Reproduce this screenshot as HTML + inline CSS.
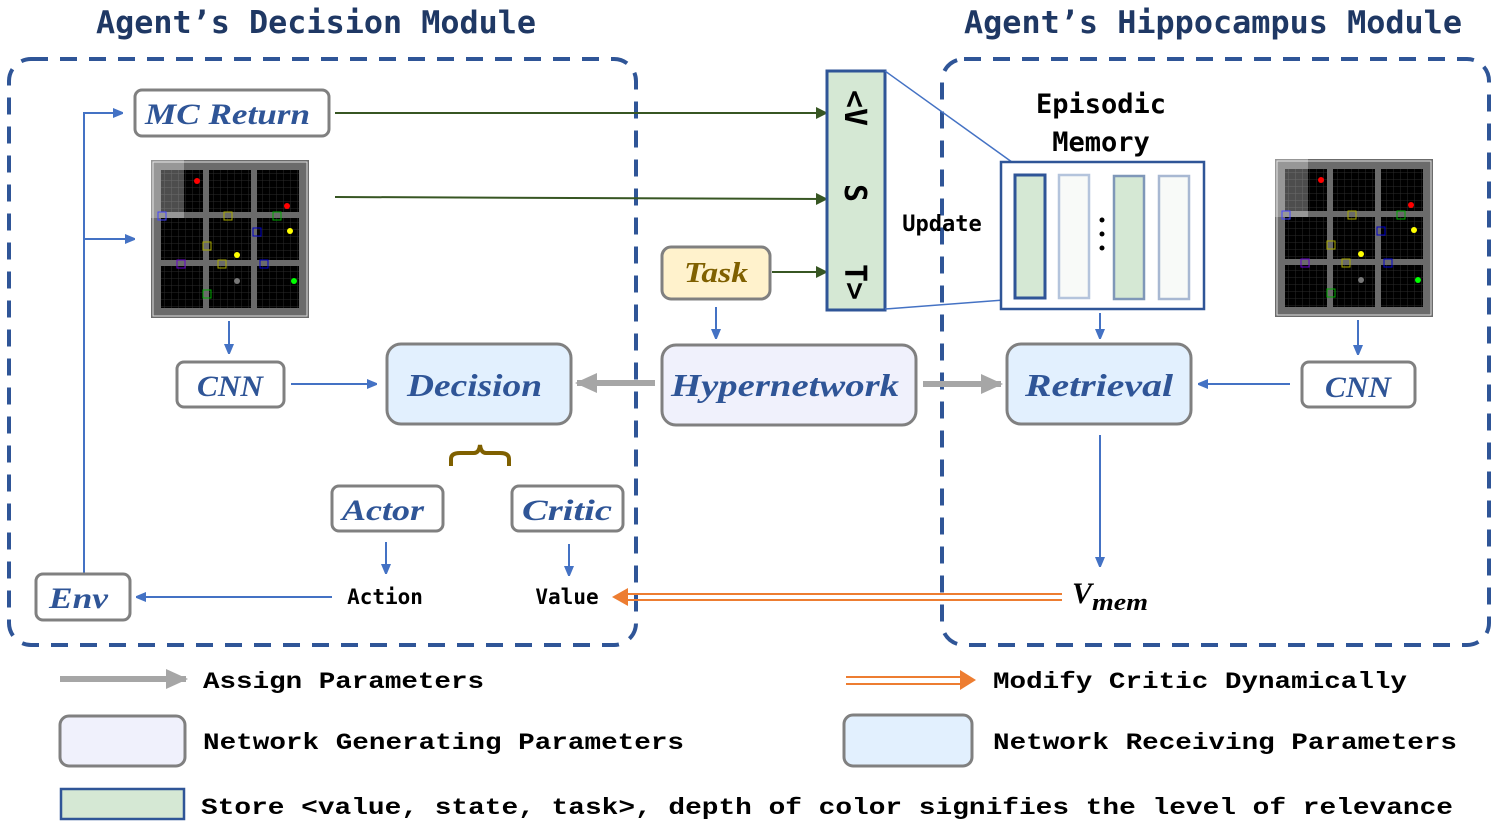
<!DOCTYPE html>
<html><head><meta charset="utf-8"><style>
html,body{margin:0;padding:0;background:#fff;}
svg{display:block}
.t{font-family:"DejaVu Sans Mono",monospace;font-weight:bold;fill:#1f3864;font-size:31px}
.n{font-family:"Liberation Serif",serif;font-style:italic;font-weight:bold;fill:#2f5597}
.m{font-family:"DejaVu Sans Mono",monospace;font-weight:bold;fill:#000}
.l{font-family:"Liberation Mono",monospace;font-weight:bold;fill:#000;font-size:23px}
</style></head><body>
<svg width="1495" height="825" viewBox="0 0 1495 825" xmlns="http://www.w3.org/2000/svg">
<defs>
<marker id="ab" markerWidth="10" markerHeight="10" refX="9" refY="5" orient="auto" markerUnits="userSpaceOnUse"><path d="M0,0 L12,5 L0,10 z" fill="#4472c4"/></marker>
<marker id="ag" markerWidth="12" markerHeight="12" refX="11" refY="6" orient="auto" markerUnits="userSpaceOnUse"><path d="M0,0 L12,6 L0,12 z" fill="#375623"/></marker>
<marker id="agr" markerWidth="22" markerHeight="20" refX="20" refY="10" orient="auto" markerUnits="userSpaceOnUse"><path d="M0,0 L22,10 L0,20 z" fill="#a6a6a6"/></marker>
<pattern id="gl" width="7" height="7" patternUnits="userSpaceOnUse"><rect width="7" height="7" fill="#000"/><path d="M7,0 V7 M0,7 H7" stroke="#2a2a2a" stroke-width="1"/></pattern>
<g id="grid">
<rect x="0" y="0" width="158" height="158" fill="#6b6b6b"/>
<rect x="2" y="2" width="154" height="154" fill="none" stroke="#ddd" stroke-width="1"/>
<rect x="10" y="10" width="42" height="42" fill="url(#gl)"/><rect x="58" y="10" width="42" height="42" fill="url(#gl)"/><rect x="106" y="10" width="42" height="42" fill="url(#gl)"/>
<rect x="10" y="58" width="42" height="42" fill="url(#gl)"/><rect x="58" y="58" width="42" height="42" fill="url(#gl)"/><rect x="106" y="58" width="42" height="42" fill="url(#gl)"/>
<rect x="10" y="106" width="42" height="42" fill="url(#gl)"/><rect x="58" y="106" width="42" height="42" fill="url(#gl)"/><rect x="106" y="106" width="42" height="42" fill="url(#gl)"/>
<rect x="0" y="0" width="33" height="58" fill="#fff" opacity="0.3"/>
<circle cx="46" cy="21" r="3" fill="red"/><circle cx="136" cy="46" r="3" fill="red"/>
<circle cx="139" cy="71" r="3" fill="yellow"/><circle cx="86" cy="95" r="3" fill="yellow"/>
<circle cx="143" cy="121" r="3" fill="#0f0"/><circle cx="86" cy="121" r="3" fill="#777"/>
<rect x="7" y="52" width="8" height="8" fill="none" stroke="#44f"/><rect x="73" y="52" width="8" height="8" fill="none" stroke="#aa0"/>
<rect x="122" y="52" width="8" height="8" fill="none" stroke="#0a0"/><rect x="102" y="68" width="8" height="8" fill="none" stroke="#00c"/>
<rect x="52" y="82" width="8" height="8" fill="none" stroke="#aa0"/><rect x="26" y="100" width="8" height="8" fill="none" stroke="#60c"/>
<rect x="67" y="100" width="8" height="8" fill="none" stroke="#aa0"/><rect x="109" y="100" width="8" height="8" fill="none" stroke="#00c"/>
<rect x="52" y="130" width="8" height="8" fill="none" stroke="#0a0"/>
</g>
</defs>

<text class="t" x="96" y="33" textLength="440" lengthAdjust="spacingAndGlyphs">Agent’s Decision Module</text>
<text class="t" x="964" y="33" textLength="498" lengthAdjust="spacingAndGlyphs">Agent’s Hippocampus Module</text>

<rect x="9" y="59" width="627" height="586" rx="22" fill="none" stroke="#2f5597" stroke-width="4" stroke-dasharray="17 12"/>
<rect x="942" y="59" width="547" height="586" rx="22" fill="none" stroke="#2f5597" stroke-width="4" stroke-dasharray="17 12"/>

<rect x="135" y="90" width="194" height="46" rx="7" fill="#fff" stroke="#808080" stroke-width="3"/>
<text class="n" x="145" y="124" font-size="30" textLength="165" lengthAdjust="spacingAndGlyphs">MC Return</text>
<use href="#grid" x="151" y="160"/>
<use href="#grid" x="1275" y="159"/>

<path d="M84,575 V113 H122" fill="none" stroke="#4472c4" stroke-width="2" marker-end="url(#ab)"/>
<path d="M84,239 H134" fill="none" stroke="#4472c4" stroke-width="2" marker-end="url(#ab)"/>

<line x1="335" y1="113" x2="827" y2="113" stroke="#375623" stroke-width="2" marker-end="url(#ag)"/>
<line x1="335" y1="197" x2="827" y2="199" stroke="#375623" stroke-width="2" marker-end="url(#ag)"/>
<line x1="772" y1="272" x2="827" y2="272" stroke="#375623" stroke-width="2" marker-end="url(#ag)"/>

<rect x="827" y="71" width="58" height="239" fill="#d5e8d4" stroke="#2f5597" stroke-width="3"/>
<g class="m" font-size="30">
<text transform="translate(845,108) rotate(90)" text-anchor="middle">&lt;V</text>
<text transform="translate(845,193) rotate(90)" text-anchor="middle">S</text>
<text transform="translate(845,282) rotate(90)" text-anchor="middle">T&gt;</text>
</g>
<text class="m" x="942" y="231" font-size="22" text-anchor="middle">Update</text>
<line x1="885" y1="71" x2="1030" y2="175" stroke="#4472c4" stroke-width="1.5"/>
<line x1="885" y1="309" x2="1030" y2="298" stroke="#4472c4" stroke-width="1.5"/>

<text class="m" x="1101" y="113" font-size="27" text-anchor="middle">Episodic</text>
<text class="m" x="1101" y="151" font-size="27" text-anchor="middle">Memory</text>
<rect x="1001" y="162" width="203" height="147" fill="#fff" stroke="#2f5597" stroke-width="2.5"/>
<rect x="1015" y="175" width="30" height="123" fill="#d5e8d4" stroke="#2f5597" stroke-width="3"/>
<rect x="1059" y="175" width="30" height="123" fill="#f8faf8" stroke="#b4c4dc" stroke-width="2.5"/>
<rect x="1114" y="176" width="30" height="123" fill="#d5e8d4" stroke="#7f97b8" stroke-width="2.5"/>
<rect x="1159" y="176" width="30" height="123" fill="#f8faf8" stroke="#a8b8d2" stroke-width="2.5"/>
<circle cx="1102" cy="220" r="2.5" fill="#000"/><circle cx="1102" cy="234" r="2.5" fill="#000"/><circle cx="1102" cy="248" r="2.5" fill="#000"/>

<rect x="662" y="247" width="108" height="52" rx="9" fill="#fff2cc" stroke="#808080" stroke-width="3"/>
<text class="n" x="684" y="282" font-size="28" textLength="64" lengthAdjust="spacingAndGlyphs" style="fill:#7f6000">Task</text>
<line x1="716" y1="307" x2="716" y2="338" stroke="#4472c4" stroke-width="2" marker-end="url(#ab)"/>

<line x1="229" y1="321" x2="229" y2="353" stroke="#4472c4" stroke-width="2" marker-end="url(#ab)"/>
<rect x="177" y="362" width="107" height="45" rx="7" fill="#fff" stroke="#808080" stroke-width="3"/>
<text class="n" x="197" y="396" font-size="30" textLength="66" lengthAdjust="spacingAndGlyphs">CNN</text>
<line x1="291" y1="384" x2="376" y2="384" stroke="#4472c4" stroke-width="2" marker-end="url(#ab)"/>

<rect x="387" y="344" width="184" height="80" rx="14" fill="#e2f0fe" stroke="#808080" stroke-width="3"/>
<text class="n" x="407" y="396" font-size="32" textLength="135" lengthAdjust="spacingAndGlyphs">Decision</text>

<line x1="655" y1="383" x2="577" y2="383" stroke="#a6a6a6" stroke-width="6" marker-end="url(#agr)"/>
<rect x="662" y="345" width="254" height="80" rx="14" fill="#f0f1fc" stroke="#808080" stroke-width="3"/>
<text class="n" x="671" y="396" font-size="32" textLength="228" lengthAdjust="spacingAndGlyphs">Hypernetwork</text>
<line x1="923" y1="384" x2="1001" y2="384" stroke="#a6a6a6" stroke-width="6" marker-end="url(#agr)"/>

<line x1="1100" y1="313" x2="1100" y2="338" stroke="#4472c4" stroke-width="2" marker-end="url(#ab)"/>
<rect x="1007" y="344" width="184" height="80" rx="14" fill="#e2f0fe" stroke="#808080" stroke-width="3"/>
<text class="n" x="1025" y="396" font-size="32" textLength="148" lengthAdjust="spacingAndGlyphs">Retrieval</text>
<line x1="1290" y1="384" x2="1199" y2="384" stroke="#4472c4" stroke-width="2" marker-end="url(#ab)"/>
<line x1="1358" y1="320" x2="1358" y2="354" stroke="#4472c4" stroke-width="2" marker-end="url(#ab)"/>
<rect x="1302" y="362" width="113" height="45" rx="7" fill="#fff" stroke="#808080" stroke-width="3"/>
<text class="n" x="1325" y="397" font-size="30" textLength="66" lengthAdjust="spacingAndGlyphs">CNN</text>

<line x1="1100" y1="435" x2="1100" y2="566" stroke="#4472c4" stroke-width="2" marker-end="url(#ab)"/>
<text x="1072" y="603" font-family="Liberation Serif,serif" font-style="italic" font-weight="bold" font-size="30">V</text>
<text x="1092" y="610" font-family="Liberation Serif,serif" font-style="italic" font-weight="bold" font-size="24" textLength="56" lengthAdjust="spacingAndGlyphs">mem</text>

<path d="M451,466 V459 Q451,453 460,453 H474 Q479,453 480,445 Q481,453 486,453 H500 Q509,453 509,459 V466" fill="none" stroke="#7f6000" stroke-width="4"/>

<rect x="332" y="486" width="111" height="45" rx="7" fill="#fff" stroke="#808080" stroke-width="3"/>
<text class="n" x="342" y="520" font-size="30" textLength="82" lengthAdjust="spacingAndGlyphs">Actor</text>
<rect x="512" y="486" width="111" height="45" rx="7" fill="#fff" stroke="#808080" stroke-width="3"/>
<text class="n" x="522" y="520" font-size="30" textLength="90" lengthAdjust="spacingAndGlyphs">Critic</text>
<line x1="386" y1="542" x2="386" y2="573" stroke="#4472c4" stroke-width="2" marker-end="url(#ab)"/>
<line x1="569" y1="544" x2="569" y2="575" stroke="#4472c4" stroke-width="2" marker-end="url(#ab)"/>
<text class="m" x="385" y="604" font-size="21" text-anchor="middle">Action</text>
<text class="m" x="567" y="604" font-size="21" text-anchor="middle">Value</text>

<rect x="36" y="574" width="94" height="46" rx="7" fill="#fff" stroke="#808080" stroke-width="3"/>
<text class="n" x="49" y="608" font-size="30" textLength="59" lengthAdjust="spacingAndGlyphs">Env</text>
<line x1="332" y1="597" x2="137" y2="597" stroke="#4472c4" stroke-width="2" marker-end="url(#ab)"/>

<line x1="1062" y1="594" x2="626" y2="594" stroke="#ed7d31" stroke-width="2"/>
<line x1="1062" y1="600" x2="626" y2="600" stroke="#ed7d31" stroke-width="2"/>
<path d="M612,597 L628,588 L628,606 z" fill="#ed7d31"/>

<line x1="60" y1="679" x2="186" y2="679" stroke="#a6a6a6" stroke-width="6" marker-end="url(#agr)"/>
<text class="l" x="203" y="688" textLength="281" lengthAdjust="spacingAndGlyphs">Assign Parameters</text>
<line x1="846" y1="677" x2="962" y2="677" stroke="#ed7d31" stroke-width="2"/>
<line x1="846" y1="684" x2="962" y2="684" stroke="#ed7d31" stroke-width="2"/>
<path d="M976,680 L960,670 L960,690 z" fill="#ed7d31"/>
<text class="l" x="993" y="688" textLength="414" lengthAdjust="spacingAndGlyphs">Modify Critic Dynamically</text>
<rect x="60" y="716" width="125" height="50" rx="9" fill="#f0f1fc" stroke="#808080" stroke-width="3"/>
<text class="l" x="203" y="749" textLength="481" lengthAdjust="spacingAndGlyphs">Network Generating Parameters</text>
<rect x="844" y="715" width="128" height="51" rx="9" fill="#e2f0fe" stroke="#808080" stroke-width="3"/>
<text class="l" x="993" y="749" textLength="464" lengthAdjust="spacingAndGlyphs">Network Receiving Parameters</text>
<rect x="61" y="789" width="123" height="30" fill="#d5e8d4" stroke="#2f5597" stroke-width="2.5"/>
<text class="l" x="201" y="814" textLength="1252" lengthAdjust="spacingAndGlyphs">Store &lt;value, state, task&gt;, depth of color signifies the level of relevance</text>
</svg>
</body></html>
